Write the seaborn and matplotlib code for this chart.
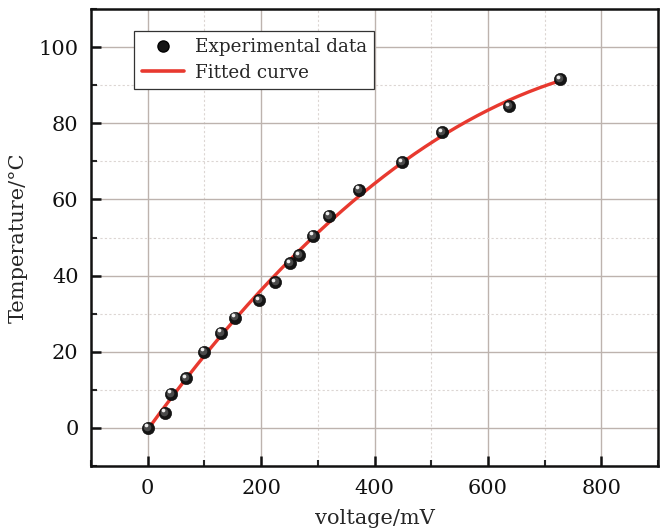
import numpy as np
import pandas as pd
import matplotlib
matplotlib.use("Agg")
import matplotlib.pyplot as plt
import matplotlib.transforms as mtransforms
from matplotlib.ticker import MultipleLocator
from matplotlib.lines import Line2D
import seaborn as sns

# Measured thermocouple data
voltage_mv = [0, 30, 41, 67, 99, 129, 154, 196, 225, 251, 267, 292, 320, 372, 448, 519, 637, 727]
temperature_c = [0, 4.0, 9.0, 13.0, 20.0, 25.0, 29.0, 33.5, 38.3, 43.3, 45.4, 50.4, 55.7, 62.5, 69.7, 77.6, 84.4, 91.6]

x_label = "voltage/mV"
y_label = "Temperature/°C"
legend_labels = ["Experimental data", "Fitted curve"]

sns.set_style("ticks")
plt.rcParams["font.family"] = ["DejaVu Serif"]
plt.rcParams["mathtext.fontset"] = "dejavuserif"

df = pd.DataFrame({"voltage": voltage_mv, "temperature": temperature_c})

# Second-order polynomial fit of the measurements
coef = np.polyfit(df["voltage"], df["temperature"], 2)
v_fit = np.linspace(0, max(voltage_mv), 200)
fit_df = pd.DataFrame({"voltage": v_fit, "temperature": np.polyval(coef, v_fit)})

fig = plt.figure(figsize=(6.6, 5.29), dpi=100)
ax = fig.add_axes([0.138, 0.119, 0.859, 0.864])

grid_col = "#bdb3ae"
ax.xaxis.set_major_locator(MultipleLocator(200))
ax.xaxis.set_minor_locator(MultipleLocator(100))
ax.yaxis.set_major_locator(MultipleLocator(20))
ax.yaxis.set_minor_locator(MultipleLocator(10))
ax.grid(which="major", color=grid_col, lw=1.0, ls="-", zorder=0)
ax.grid(which="minor", color="#dcd6d3", lw=0.8, ls=(0, (2, 2)), zorder=0)
ax.set_axisbelow(True)

sns.lineplot(data=fit_df, x="voltage", y="temperature", ax=ax, color="#e8392f",
             lw=2.4, zorder=3, legend=False)

# Shaded sphere markers: dark body plus a small offset highlight
sns.scatterplot(data=df, x="voltage", y="temperature", ax=ax, color="#151515",
                s=78, edgecolor="#000000", linewidth=0.4, zorder=4, legend=False)
sns.scatterplot(data=df, x="voltage", y="temperature", ax=ax, color="#4a4a4a",
                s=30, linewidth=0, zorder=5, legend=False,
                transform=mtransforms.offset_copy(ax.transData, fig=fig, x=-0.6, y=0.8, units="points"))
sns.scatterplot(data=df, x="voltage", y="temperature", ax=ax, color="#eeeeee",
                s=7, linewidth=0, zorder=6, legend=False,
                transform=mtransforms.offset_copy(ax.transData, fig=fig, x=-1.4, y=1.8, units="points"))

ax.set_xlim(-100, 900)
ax.set_ylim(-10, 110)
ax.set_xlabel(x_label, fontsize=15, labelpad=8)
ax.set_ylabel(y_label, fontsize=15, labelpad=8)

for side in ["left", "bottom", "top", "right"]:
    ax.spines[side].set_linewidth(1.8)
    ax.spines[side].set_color("#111111")
ax.tick_params(which="major", direction="in", length=7, width=1.8, labelsize=15,
               colors="#111111", top=False, right=False, pad=9)
ax.tick_params(which="minor", direction="in", length=4, width=1.5, top=False, right=False)

handles = [
    Line2D([], [], ls="none", marker="o", markersize=8, markerfacecolor="#151515",
           markeredgecolor="#000000"),
    Line2D([], [], color="#e8392f", lw=2.6),
]
leg = ax.legend(handles, legend_labels, loc="upper left", bbox_to_anchor=(0.076, 0.952),
                fontsize=13.2, frameon=True, fancybox=False, edgecolor="#333333",
                framealpha=1, borderpad=0.4, handlelength=2.3, labelspacing=0.4,
                handletextpad=0.6, borderaxespad=0)
leg.get_frame().set_linewidth(0.9)

fig.savefig("out.png", dpi=100)
